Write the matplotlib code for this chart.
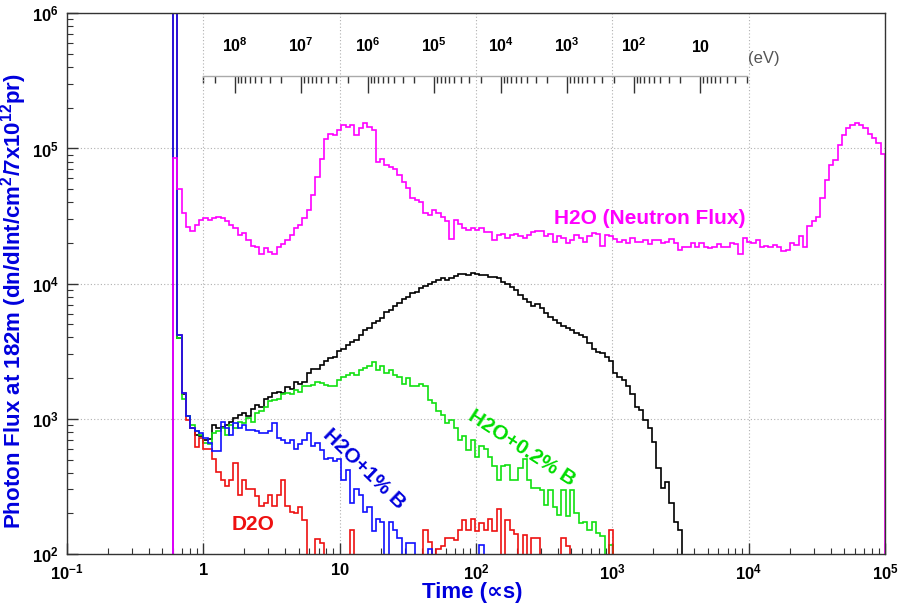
import numpy as np
import matplotlib
matplotlib.use("Agg")
import matplotlib.pyplot as plt
from matplotlib import ticker

plt.rcParams['font.family'] = ['Liberation Sans', 'DejaVu Sans']
plt.rcParams['mathtext.fontset'] = 'custom'
plt.rcParams['mathtext.rm'] = 'Liberation Sans'
plt.rcParams['mathtext.bf'] = 'Liberation Sans:bold'

# time binning (log-uniform bins, microseconds)
t_min, t_max, n_bins = 0.6, 1e5, 165

# log10 of photon flux per bin; 0 means an empty bin
h2o_neutron_log = [
    4.93, 4.70, 4.52, 4.42, 4.39, 4.435, 4.47, 4.485, 4.47, 4.485,
    4.49, 4.485, 4.46, 4.435, 4.41, 4.36, 4.375, 4.32, 4.28, 4.27,
    4.22, 4.26, 4.235, 4.22, 4.27, 4.29, 4.32, 4.36, 4.41, 4.435,
    4.485, 4.545, 4.655, 4.79, 4.925, 5.07, 5.11, 5.10, 5.135, 5.17,
    5.16, 5.17, 5.10, 5.15, 5.19, 5.16, 5.14, 4.90, 4.92, 4.88,
    4.865, 4.85, 4.80, 4.755, 4.705, 4.63, 4.62, 4.605, 4.52, 4.51,
    4.545, 4.52, 4.495, 4.46, 4.33, 4.47, 4.44, 4.415, 4.40, 4.41,
    4.40, 4.41, 4.385, 4.38, 4.32, 4.36, 4.37, 4.335, 4.36, 4.37,
    4.35, 4.34, 4.36, 4.385, 4.39, 4.39, 4.35, 4.37, 4.31, 4.35,
    4.335, 4.30, 4.32, 4.36, 4.335, 4.31, 4.35, 4.375, 4.37, 4.28,
    4.36, 4.35, 4.33, 4.31, 4.32, 4.30, 4.335, 4.31, 4.31, 4.32,
    4.29, 4.32, 4.32, 4.30, 4.31, 4.33, 4.30, 4.25, 4.27, 4.27,
    4.30, 4.27, 4.30, 4.27, 4.26, 4.27, 4.29, 4.27, 4.27, 4.30,
    4.29, 4.22, 4.34, 4.31, 4.30, 4.32, 4.27, 4.28, 4.27, 4.285,
    4.27, 4.24, 4.25, 4.30, 4.285, 4.35, 4.27, 4.43, 4.46, 4.495,
    4.63, 4.77, 4.88, 4.915, 5.025, 5.10, 5.15, 5.17, 5.185, 5.17,
    5.15, 5.11, 5.075, 5.04, 4.96,
]
h2o_log = [
    6.5, 3.60, 3.18, 3.02, 2.93, 2.88, 2.87, 2.84, 2.85, 2.955,
    2.93, 2.94, 2.955, 2.98, 3.005, 3.03, 3.04, 3.02, 3.07, 3.10,
    3.09, 3.15, 3.16, 3.19, 3.20, 3.19, 3.235, 3.22, 3.275, 3.26,
    3.275, 3.34, 3.37, 3.37, 3.40, 3.43, 3.45, 3.46, 3.50, 3.52,
    3.547, 3.57, 3.584, 3.62, 3.66, 3.67, 3.707, 3.72, 3.744, 3.79,
    3.805, 3.835, 3.86, 3.884, 3.904, 3.93, 3.94, 3.965, 3.98, 4.00,
    4.015, 4.027, 4.04, 4.027, 4.04, 4.057, 4.07, 4.07, 4.064, 4.076,
    4.07, 4.064, 4.064, 4.05, 4.05, 4.04, 4.015, 4.00, 3.978, 3.953,
    3.916, 3.89, 3.867, 3.835, 3.85, 3.818, 3.78, 3.756, 3.73, 3.707,
    3.69, 3.67, 3.658, 3.633, 3.62, 3.608, 3.56, 3.52, 3.497, 3.485,
    3.46, 3.424, 3.337, 3.313, 3.29, 3.24, 3.18, 3.09, 3.067, 2.993,
    2.93, 2.83, 2.635, 2.49, 2.53, 2.38, 2.24, 2.18,
]
h2o_02b_log = [
    6.5, 3.60, 3.15, 3.02, 2.955, 2.91, 2.88, 2.82, 2.81, 2.895,
    2.91, 2.93, 2.88, 2.955, 2.93, 2.98, 2.97, 3.005, 2.98, 3.04,
    3.055, 3.09, 3.13, 3.14, 3.15, 3.18, 3.19, 3.18, 3.215, 3.20,
    3.24, 3.24, 3.25, 3.275, 3.265, 3.25, 3.24, 3.24, 3.29, 3.31,
    3.325, 3.34, 3.325, 3.36, 3.375, 3.39, 3.42, 3.36, 3.39, 3.34,
    3.36, 3.325, 3.31, 3.26, 3.30, 3.24, 3.24, 3.26, 3.24, 3.14,
    3.115, 3.055, 3.03, 2.97, 2.99, 2.93, 2.845, 2.87, 2.77, 2.845,
    2.72, 2.80, 2.78, 2.72, 2.65, 2.55, 2.65, 2.66, 2.55, 2.55,
    2.635, 2.70, 2.55, 2.49, 2.49, 2.475, 2.36, 2.47, 2.35, 2.29,
    2.47, 2.28, 2.47, 2.30, 2.23, 2.24, 2.18, 2.24, 2.155, 2.13,
    0, 2.07,
]
h2o_1b_log = [
    6.5, 3.62, 3.19, 3.02, 2.93, 2.91, 2.895, 2.86, 2.82, 2.76,
    2.76, 2.98, 2.93, 2.88, 2.97, 2.93, 2.955, 2.92, 2.92, 2.91,
    2.895, 2.895, 2.91, 2.97, 2.86, 2.845, 2.82, 2.845, 2.78, 2.81,
    2.845, 2.895, 2.80, 2.82, 2.77, 2.70, 2.71, 2.685, 2.70, 2.55,
    2.62, 2.38, 2.48, 2.44, 2.31, 2.35, 2.17, 2.26, 2.24, 0,
    2.24, 2.18, 2.12, 0, 2.08, 2.08, 0, 0, 0, 2.04,
    0, 0, 0, 0, 0, 0, 0, 0, 0, 0,
    0, 2.07,
]
d2o_log = [
    6.5, 3.62, 3.19, 2.99, 2.93, 2.79, 2.86, 2.78, 2.78, 2.70,
    2.61, 2.55, 2.50, 2.55, 2.675, 2.44, 2.55, 2.48, 2.48, 2.43,
    2.355, 2.38, 2.44, 2.355, 2.44, 2.55, 2.355, 2.31, 2.30, 2.35,
    2.255, 0, 0, 2.11, 2.08, 0, 0, 0, 0, 0,
    0, 2.18, 0, 0, 0, 0, 0, 0, 0, 0,
    0, 0, 0, 0, 0, 0, 0, 0, 2.18, 2.09,
    0, 2.04, 2.06, 2.12, 2.12, 2.10, 2.18, 2.255, 2.18, 2.26,
    2.17, 2.23, 2.18, 2.26, 2.17, 2.33, 0, 2.255, 2.18, 2.15,
    0, 2.14, 0, 2.12, 2.12, 0, 0, 0, 0, 0,
    2.12, 2.06, 0, 0, 0, 0, 0, 0, 0, 0,
    0, 2.18,
]

# neutron energy scale shown inside the frame
energy_majors = [1e8, 1e7, 1e6, 1e5, 1e4, 1e3, 1e2, 10]
energy_labels = [r'$\mathbf{10^{8}}$', r'$\mathbf{10^{7}}$', r'$\mathbf{10^{6}}$',
                 r'$\mathbf{10^{5}}$', r'$\mathbf{10^{4}}$', r'$\mathbf{10^{3}}$',
                 r'$\mathbf{10^{2}}$', r'$\mathbf{10}$']
energy_range = (2.0, 3e8)

x_ticks = [1e-1, 1, 10, 1e2, 1e3, 1e4, 1e5]
x_labels = [r'$\mathbf{10^{-1}}$', r'$\mathbf{1}$', r'$\mathbf{10}$', r'$\mathbf{10^{2}}$',
            r'$\mathbf{10^{3}}$', r'$\mathbf{10^{4}}$', r'$\mathbf{10^{5}}$']
y_ticks = [1e2, 1e3, 1e4, 1e5, 1e6]
y_labels = [r'$\mathbf{10^{2}}$', r'$\mathbf{10^{3}}$', r'$\mathbf{10^{4}}$',
            r'$\mathbf{10^{5}}$', r'$\mathbf{10^{6}}$']


def flux(logs):
    logs = np.asarray(logs, dtype=float)
    return np.where(logs > 0, 10.0 ** logs, 1.0)


def t_to_e(t):
    t = np.clip(np.asarray(t, dtype=float), 1e-12, None)
    return 10 ** 8.4734 * t ** -2.05


def e_to_t(e):
    e = np.clip(np.asarray(e, dtype=float), 1e-12, None)
    return (e / 10 ** 8.4734) ** (-1 / 2.05)


edges = np.geomspace(t_min, t_max, n_bins + 1)

fig = plt.figure(figsize=(9, 6.04), dpi=100)
ax = fig.add_axes([0.0744, 0.0828, 0.9089, 0.8952])
ax.set_xscale('log')
ax.set_yscale('log')
ax.set_xlim(1e-1, 1e5)
ax.set_ylim(1e2, 1e6)

series = [
    (h2o_log, 'black'),
    (h2o_02b_log, '#11e011'),
    (d2o_log, '#ee1111'),
    (h2o_1b_log, '#1010ff'),
    (h2o_neutron_log, '#ff00ff'),
]
for logs, col in series:
    vals = flux(logs)
    ax.stairs(vals, edges[:len(vals) + 1], baseline=1.0, color=col, lw=1.2)

ax.grid(which='major', ls=(0, (1, 2)), color='#b0b0b0', lw=0.8)
ax.set_axisbelow(True)

ax.xaxis.set_major_locator(ticker.FixedLocator(x_ticks))
ax.xaxis.set_major_formatter(ticker.FixedFormatter(x_labels))
ax.yaxis.set_major_locator(ticker.FixedLocator(y_ticks))
ax.yaxis.set_major_formatter(ticker.FixedFormatter(y_labels))
for axis in (ax.xaxis, ax.yaxis):
    axis.set_minor_locator(ticker.LogLocator(base=10, subs=np.arange(2, 10), numticks=20))
    axis.set_minor_formatter(ticker.NullFormatter())
ax.tick_params(which='major', direction='in', length=8, width=1, labelsize=12, color='#333333')
ax.tick_params(which='minor', direction='in', length=4, width=0.8, color='#333333')
ax.tick_params(axis='x', pad=6)
ax.tick_params(axis='y', pad=6)
for sp in ax.spines.values():
    sp.set_color('#333333')
    sp.set_linewidth(1.0)

# energy axis drawn inside the plot
secax = ax.secondary_xaxis(0.884, functions=(t_to_e, e_to_t))
secax.xaxis.set_major_locator(ticker.FixedLocator(energy_majors))
secax.xaxis.set_major_formatter(ticker.FixedFormatter(energy_labels))
minor_e = [m * 10.0 ** k for k in range(0, 9) for m in range(2, 10)
           if energy_range[0] <= m * 10.0 ** k <= energy_range[1]]
secax.xaxis.set_minor_locator(ticker.FixedLocator(minor_e))
secax.xaxis.set_minor_formatter(ticker.NullFormatter())
secax.tick_params(which='major', direction='in', length=12, width=1, color='#333333',
                  labelsize=11.5, pad=15)
secax.tick_params(which='minor', direction='in', length=5, width=1, color='#333333')
secax.spines['top'].set_bounds(*energy_range)
secax.spines['top'].set_color('#aaaaaa')
secax.spines['top'].set_linewidth(1.0)
ax.text(0.8325, 0.917, '(eV)', transform=ax.transAxes, fontsize=12, color='#555555',
        ha='left', va='center')

ax.set_ylabel(r'Photon Flux at 182m (dn/dlnt/cm$^{\mathbf{2}}$/7x10$^{\mathbf{12}}$pr)',
              color='#0000dd', fontsize=16, fontweight='bold')
ax.yaxis.set_label_coords(-0.046, 0.468)
ax.set_xlabel('Time (\u221ds)', color='#0000dd', fontsize=16, fontweight='bold')
ax.xaxis.set_label_coords(0.495, -0.052)

ax.text(0.7127, 0.6213, 'H2O (Neutron Flux)', transform=ax.transAxes, color='#ff00ff',
        fontsize=15, fontweight='bold', ha='center', va='center')
ax.text(0.3637, 0.1572, 'H2O+1% B', transform=ax.transAxes, color='#0000dd',
        fontsize=15, fontweight='bold', ha='center', va='center', rotation=-44)
ax.text(0.5556, 0.1951, 'H2O+0.2% B', transform=ax.transAxes, color='#00dd00',
        fontsize=15, fontweight='bold', ha='center', va='center', rotation=-33)
ax.text(0.2274, 0.0546, 'D2O', transform=ax.transAxes, color='#ee1111',
        fontsize=15, fontweight='bold', ha='center', va='center')

fig.savefig('out.png', dpi=100)
